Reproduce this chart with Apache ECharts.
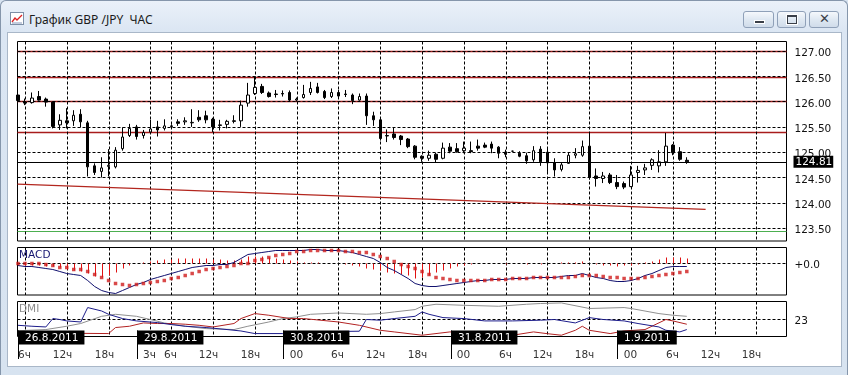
<!DOCTYPE html>
<html><head><meta charset="utf-8">
<script src="https://cdn.jsdelivr.net/npm/echarts@6/dist/echarts.min.js"></script>
<style>
html,body{margin:0;padding:0;}
body{width:848px;height:375px;overflow:hidden;position:relative;background:#d8e4f1;}
#win{position:absolute;left:0;top:0;width:846px;height:374px;border:1px solid #8596ab;border-bottom:none;border-radius:6px 6px 0 0;background:linear-gradient(to bottom,#eaf1f9 0px,#dbe6f3 30px,#d7e3f0 100%);}
#title{position:absolute;left:29px;top:11px;font:12px "Noto Sans",sans-serif;color:#1b1b1b;white-space:nowrap;}
#icon{position:absolute;left:10px;top:12px;}
.btn{position:absolute;top:11px;height:17px;border:1px solid #8fa0b8;border-radius:3px;background:linear-gradient(#f5f8fc,#dfe8f2 50%,#d0dcea);box-sizing:border-box;}
#client{position:absolute;left:7px;top:32px;width:835px;height:335px;background:#fff;border:1px solid #a9b7c8;box-sizing:border-box;}
#chart{position:absolute;left:0;top:0;width:848px;height:375px;}
</style></head>
<body>
<div id="win"></div>
<svg id="icon" width="14" height="13"><rect x="0.5" y="0.5" width="13" height="12" fill="#fff" stroke="#7d8fa6"/><polyline points="2,10 5,6 7,8 12,3" fill="none" stroke="#d22" stroke-width="1.3"/><line x1="2" y1="11" x2="12" y2="11" stroke="#8899bb"/></svg>
<div id="title">График GBP /JPY&nbsp; ЧАС</div>
<div class="btn" style="left:743px;width:31px"><div style="position:absolute;left:10px;top:8px;width:9px;height:2px;background:#3a3f48;border:1px solid #fff;"></div></div>
<div class="btn" style="left:777px;width:29px"><div style="position:absolute;left:9px;top:3px;width:8px;height:6px;border:1px solid #3a3f48;border-top-width:2px;box-shadow:0 0 0 1px #fff;"></div></div>
<div class="btn" style="left:809px;width:30px"><span style="position:absolute;left:9px;top:-1px;font:bold 13px 'DejaVu Sans';color:#3a3f48;">✕</span></div>
<div id="client"></div>
<div id="chart"></div>
<script>
// ---------- data ----------
// hourly candles [open, close, low, high], bar index = position
const ohlc = [
[126.13,126.02,126.00,126.16],[125.99,125.97,125.93,126.06],[125.98,126.07,125.96,126.18],[126.10,126.03,126.02,126.21],
[126.05,125.99,125.90,126.08],[125.99,125.51,125.47,126.00],[125.54,125.63,125.44,125.75],[125.62,125.58,125.47,125.87],
[125.62,125.73,125.52,125.83],[125.75,125.60,125.49,125.85],[125.58,124.71,124.52,125.62],[124.73,124.60,124.55,124.78],
[124.62,124.69,124.50,124.90],[124.72,124.74,124.52,125.06],[124.71,125.04,124.68,125.10],[125.07,125.30,125.03,125.49],
[125.33,125.47,125.30,125.56],[125.50,125.31,125.25,125.54],[125.33,125.39,125.27,125.44],[125.40,125.46,125.37,125.64],
[125.50,125.44,125.31,125.62],[125.47,125.52,125.43,125.65],[125.52,125.51,125.48,125.55],[125.60,125.57,125.52,125.65],
[125.60,125.62,125.54,125.69],[125.58,125.59,125.50,125.85],[125.69,125.64,125.60,125.83],[125.72,125.64,125.57,125.82],
[125.65,125.50,125.40,125.68],[125.54,125.53,125.43,125.64],[125.55,125.61,125.47,125.64],[125.62,125.61,125.57,125.73],
[125.62,125.93,125.50,126.02],[125.97,126.13,125.90,126.37],[126.16,126.28,126.13,126.50],[126.30,126.18,126.15,126.35],
[126.17,126.10,126.08,126.20],[126.15,126.14,126.08,126.23],[126.16,126.15,126.10,126.22],[126.18,126.03,126.00,126.22],
[126.03,126.05,126.00,126.08],[126.08,126.14,126.06,126.33],[126.18,126.26,126.13,126.39],[126.29,126.18,126.16,126.37],
[126.20,126.08,126.05,126.23],[126.10,126.18,126.07,126.26],[126.18,126.11,126.09,126.23],[126.15,126.14,126.09,126.23],
[126.13,126.02,125.95,126.16],[126.03,126.10,126.02,126.16],[126.11,125.72,125.54,126.16],[125.72,125.64,125.52,125.80],
[125.64,125.27,125.23,125.66],[125.32,125.33,125.20,125.45],[125.36,125.29,125.25,125.49],[125.32,125.25,125.14,125.34],
[125.26,125.11,125.08,125.28],[125.12,124.90,124.86,125.14],[124.92,124.88,124.81,124.94],[124.88,124.94,124.83,125.03],
[124.96,124.86,124.79,124.99],[124.88,125.08,124.86,125.19],[125.10,125.02,124.98,125.18],[125.07,125.01,124.99,125.18],
[125.03,125.08,124.98,125.21],[125.03,125.01,124.98,125.21],[125.12,125.08,125.03,125.25],[125.14,125.10,125.08,125.19],
[125.16,125.08,124.98,125.21],[125.10,124.98,124.88,125.12],[125.00,124.96,124.90,125.05],[125.02,125.02,125.00,125.03],
[124.98,124.92,124.90,125.02],[124.93,124.83,124.77,124.99],[124.85,125.03,124.81,125.12],[125.06,124.81,124.73,125.12],
[125.00,124.79,124.61,125.10],[124.79,124.65,124.52,124.88],[124.66,124.75,124.62,124.79],[124.78,124.94,124.77,124.99],
[124.94,124.97,124.88,125.08],[124.94,125.11,124.91,125.23],[125.12,124.50,124.46,125.37],[124.53,124.48,124.32,124.68],
[124.48,124.53,124.39,124.61],[124.55,124.40,124.37,124.59],[124.40,124.32,124.27,124.55],[124.38,124.31,124.27,124.42],
[124.32,124.55,124.31,124.73],[124.60,124.64,124.40,124.73],[124.65,124.69,124.55,124.77],[124.74,124.85,124.65,124.88],
[124.73,124.81,124.60,125.04],[124.81,125.12,124.73,125.38],[125.14,124.99,124.94,125.16],[125.01,124.86,124.83,125.10],
[124.84,124.81,124.77,124.90]
];
const levels = [127.00, 126.49, 126.01, 125.385];   // red horizontal levels
const supportLevel = 123.44;                        // green line
const lastPrice = 124.81;
const trendLine = [[-0.07, 124.37], [98.7, 123.87]];

const macdMain = [-0.02,-0.03,-0.03,-0.04,-0.05,-0.06,-0.08,-0.10,-0.11,-0.12,
-0.17,-0.23,-0.27,-0.29,-0.30,-0.27,-0.24,-0.21,-0.19,-0.16,
-0.14,-0.12,-0.10,-0.08,-0.06,-0.04,-0.03,-0.02,-0.02,-0.01,
-0.01,0.01,0.05,0.09,0.10,0.11,0.12,0.13,0.13,0.13,
0.13,0.13,0.14,0.14,0.13,0.13,0.13,0.12,0.11,0.09,
0.07,0.05,0.01,-0.04,-0.07,-0.11,-0.15,-0.20,-0.22,-0.23,
-0.23,-0.22,-0.21,-0.20,-0.19,-0.18,-0.17,-0.17,-0.16,-0.16,
-0.16,-0.15,-0.15,-0.15,-0.14,-0.14,-0.14,-0.14,-0.13,-0.12,
-0.12,-0.10,-0.12,-0.14,-0.15,-0.17,-0.18,-0.18,-0.17,-0.15,
-0.12,-0.10,-0.07,-0.04,-0.03,-0.03,-0.03];
const macdSignal = [0.00,0.00,0.00,0.00,-0.01,-0.02,-0.04,-0.04,-0.06,-0.06,
-0.08,-0.11,-0.14,-0.17,-0.20,-0.21,-0.22,-0.21,-0.20,-0.19,
-0.18,-0.17,-0.15,-0.14,-0.12,-0.10,-0.08,-0.06,-0.05,-0.04,
-0.03,-0.02,0.00,0.00,0.03,0.04,0.06,0.08,0.09,0.10,
0.12,0.12,0.13,0.13,0.13,0.13,0.13,0.12,0.12,0.11,
0.11,0.09,0.07,0.05,0.02,-0.01,-0.03,-0.05,-0.08,-0.11,
-0.14,-0.15,-0.16,-0.17,-0.17,-0.17,-0.17,-0.17,-0.16,-0.16,
-0.16,-0.15,-0.15,-0.15,-0.14,-0.14,-0.14,-0.14,-0.14,-0.14,
-0.13,-0.12,-0.12,-0.12,-0.13,-0.14,-0.14,-0.15,-0.15,-0.15,
-0.14,-0.13,-0.12,-0.11,-0.10,-0.09,-0.08];
const macdHist = [-0.01,-0.02,-0.02,-0.02,-0.03,-0.03,-0.04,-0.06,-0.07,-0.08,
-0.10,-0.13,-0.14,-0.12,-0.09,-0.05,-0.02,0.00,0.01,0.02,
0.03,0.04,0.04,0.05,0.05,0.05,0.05,0.05,0.04,0.04,
0.03,0.03,0.04,0.07,0.07,0.07,0.06,0.05,0.04,0.03,
0.02,0.01,0.01,0.01,0.00,0.00,0.00,-0.01,-0.02,-0.03,
-0.05,-0.06,-0.07,-0.09,-0.10,-0.11,-0.12,-0.15,-0.14,-0.12,
-0.09,-0.07,-0.05,-0.03,-0.02,-0.01,0.00,0.00,0.00,0.00,
-0.01,0.00,0.00,-0.01,0.00,-0.01,0.00,0.00,0.01,0.01,
0.01,0.02,0.00,-0.01,-0.02,-0.02,-0.03,-0.02,-0.02,-0.01,
0.01,0.02,0.04,0.06,0.06,0.06,0.05];

// DMI lines as [bar, value]
const adx = [[0,13.5],[4,14.5],[7,17.3],[9,19.6],[12,25.7],[14,27.4],[17,25.7],[19,23.0],[21,20.1],[24,17.3],[27,15.3],[31,14.5],[33,17.3],[36,20.9],[38,23.8],[40,25.2],[42,27.4],[46,28.5],[50,27.4],[52,28.0],[54,29.4],[57,31.4],[58,34.2],[60,35.9],[64,35.0],[69,34.2],[73,35.9],[75,36.5],[78,37.0],[82,32.3],[87,33.1],[88,32.3],[92,28.0],[94,26.6],[96,25.7]];
const diPlus = [[0,18.1],[2,17.3],[4,16.7],[5,23.8],[6,23.0],[7,21.8],[9,20.9],[10,33.1],[12,30.2],[13,27.4],[15,23.8],[17,21.8],[20,20.4],[22,18.7],[24,17.3],[27,16.2],[30,14.5],[32,13.3],[34,11.1],[38,11.1],[41,12.5],[49,13.1],[50,23.0],[52,22.4],[54,23.8],[57,25.7],[58,29.4],[59,27.4],[61,24.6],[64,23.8],[67,21.8],[71,21.8],[75,22.4],[77,23.0],[80,20.1],[82,24.6],[84,23.0],[87,21.8],[89,19.6],[92,16.7],[93,13.9],[95,12.5],[96,14.5]];
const diMinus = [[0,12.0],[9,11.3],[13,11.1],[14,16.2],[16,17.3],[18,20.1],[20,19.6],[22,19.6],[24,19.0],[26,18.1],[28,16.7],[31,19.6],[32,23.8],[34,28.0],[36,26.6],[39,23.8],[41,23.8],[46,20.9],[49,18.1],[52,13.9],[54,12.5],[58,9.7],[60,11.1],[62,12.5],[66,11.1],[71,9.7],[74,12.5],[76,11.0],[78,9.7],[80,13.9],[81,17.3],[82,13.9],[85,11.1],[87,13.3],[90,14.5],[93,23.0],[94,21.8],[96,19.0]];
const dmiLevel = 23;

// time axis
const gridBars = [1,7,13,19,22,28,34,40,46,52,58,64,70,76,82,88,94,100,106];
const timeLabels = ['6ч','12ч','18ч','3ч','6ч','12ч','18ч','00','6ч','12ч','18ч','00','6ч','12ч','18ч','00','6ч','12ч','18ч'];
const flagBars = [-0.07, 17.1, 38.1, 62.1, 86.0];
const dayLabels = ['26.8.2011','29.8.2011','30.8.2011','31.8.2011','1.9.2011'];

// ---------- layout ----------
const FONT = 'DejaVu Sans';
const XMIN = -0.0718, XMAX = 110.31;
const PX_MAIN = 50.6, SCALE_TOP = 51, SCALE_MIN = 123.5, SCALE_MAX = 127;
const MAIN_TOP = 41.5, MAIN_BOTTOM = 241;
const mainMax = SCALE_MAX + (SCALE_TOP - MAIN_TOP) / PX_MAIN;
const mainMin = SCALE_MAX - (MAIN_BOTTOM - SCALE_TOP) / PX_MAIN;
const MACD_MIN = -0.315, MACD_MAX = 0.16;
const DMI_MAX = 38.216, DMI_MIN = 8.63;
const DASH = [3,2];
const dash = {color:'#000', width:1, type:DASH};
const sideLabel = {show:true, position:'end', distance:8, formatter:'{b}', color:'#111', fontFamily:FONT, fontSize:10.5, verticalAlign:'top', lineHeight:4};

const chart = echarts.init(document.getElementById('chart'));
const xa = (g) => ({gridIndex:g, type:'value', min:XMIN, max:XMAX, show:false});

// vertical dashed time grid drawn through the axis scales (snapped to whole pixels)
function vGrid(gi, ymin, ymax, withLabels) {
  return {type:'custom', xAxisIndex:gi, yAxisIndex:gi, z:1.6, silent:true, clip:false,
    data: gridBars.map((b,i)=>[b, ymin]),
    renderItem: function(params, api){
      const p0 = api.coord([api.value(0), ymin]), p1 = api.coord([api.value(0), ymax]);
      const x = Math.round(p0[0]) + 0.5;
      const ch = [{type:'line', shape:{x1:x, y1:p1[1], x2:x, y2:p0[1]}, style:{stroke:'#000', lineWidth:1, lineDash:DASH}}];
      if (withLabels) {
        const t = timeLabels[params.dataIndex];
        ch.push({type:'text', x: x - (t.length > 2 ? 5 : 1), y: p0[1] + 18.5,
          style:{text:t, fill:'#333', font:'10.5px "DejaVu Sans"', align:'center', verticalAlign:'middle'}});
      }
      return {type:'group', children:ch};
    }};
}

chart.setOption({
  animation:false,
  grid:[
    {left:17.5, top:MAIN_TOP, width:769, height:MAIN_BOTTOM-MAIN_TOP, show:true, borderColor:'#000', borderWidth:1},
    {left:17.5, top:SCALE_TOP, width:769, height:(SCALE_MAX-SCALE_MIN)*PX_MAIN},
    {left:17.5, top:247.5, width:769, height:47.5, show:true, borderColor:'#000', borderWidth:1},
    {left:17.5, top:301.5, width:769, height:35, show:true, borderColor:'#000', borderWidth:1}
  ],
  xAxis:[xa(0), xa(1), xa(2), xa(3)],
  yAxis:[
    {gridIndex:0, type:'value', min:mainMin, max:mainMax, show:false},
    {gridIndex:1, type:'value', min:SCALE_MIN, max:SCALE_MAX, interval:0.5, position:'right', z:1.5,
      axisLine:{show:false}, axisTick:{show:false},
      axisLabel:{margin:8, color:'#111', fontFamily:FONT, fontSize:10.5, verticalAlign:'top', lineHeight:5, formatter:v=>v.toFixed(2)},
      splitLine:{show:true, lineStyle:dash}},
    {gridIndex:2, type:'value', min:MACD_MIN, max:MACD_MAX, show:false},
    {gridIndex:3, type:'value', min:DMI_MIN, max:DMI_MAX, show:false}
  ],
  graphic:[
    {type:'text', left:19, top:250, z:20, style:{text:'MACD', fill:'#141470', font:'10.5px "DejaVu Sans"'}},
    {type:'text', left:19, top:304, z:20, style:{text:'DMI', fill:'#8c8c8c', font:'10.5px "DejaVu Sans"'}}
  ],
  series:[
    // main panel
    {type:'line', xAxisIndex:0, yAxisIndex:0, data:[], markLine:{symbol:['none','none'], silent:true, z:1,
      label:{show:false}, lineStyle:{color:'#a81c1c', width:1.3, type:'solid'},
      data: levels.map(v=>({yAxis:v})).concat([{yAxis:supportLevel, lineStyle:{color:'#4caf50', width:1, type:'solid'}}])}},
    vGrid(0, mainMin, mainMax, false),
    {type:'line', xAxisIndex:0, yAxisIndex:0, z:1.8, data:trendLine, symbol:'none', lineStyle:{color:'#b3261e', width:1.2}},
    {type:'candlestick', xAxisIndex:0, yAxisIndex:0, barWidth:3, z:2,
      data: ohlc.map((d,i)=>[i, d[0], d[1], d[2], d[3]]),
      itemStyle:{color:'#fff', color0:'#000', borderColor:'#000', borderColor0:'#000', borderWidth:1},
      markLine:{symbol:['none','none'], silent:true, z:5,
        data:[{yAxis:lastPrice, lineStyle:{color:'#000', width:1, type:'solid'},
          label:{show:true, position:'end', distance:7, formatter:lastPrice.toFixed(2), color:'#fff', backgroundColor:'#000', padding:[1,1,0,2], fontFamily:FONT, fontSize:10.5}}]}},
    // MACD panel
    vGrid(2, MACD_MIN, MACD_MAX, false),
    {type:'line', xAxisIndex:2, yAxisIndex:2, data:[], markLine:{symbol:['none','none'], silent:true, z:1.6, lineStyle:dash,
      data:[{yAxis:0, name:'+0.0'}], label:sideLabel}},
    {type:'custom', xAxisIndex:2, yAxisIndex:2, z:2, silent:true,
      data: macdHist.map((v,i)=>[i,v]),
      renderItem: function(params, api){
        const p0 = api.coord([api.value(0), 0]), p1 = api.coord([api.value(0), api.value(1)]);
        const x = Math.round(p0[0]) + 0.5;
        return {type:'line', shape:{x1:x, y1:p0[1], x2:x, y2:p1[1]}, style:{stroke:'#e01010', lineWidth:1}};
      }},
    {type:'line', xAxisIndex:2, yAxisIndex:2, data: macdMain.map((v,i)=>[i,v]), symbol:'none', lineStyle:{color:'#10106e', width:1}, z:3},
    {type:'scatter', xAxisIndex:2, yAxisIndex:2, data: macdSignal.map((v,i)=>[i,v]), symbol:'rect', symbolSize:3.5, itemStyle:{color:'#d01c1c'}, z:4},
    // DMI panel
    vGrid(3, DMI_MIN, DMI_MAX, true),
    {type:'line', xAxisIndex:3, yAxisIndex:3, data:[], markLine:{symbol:['none','none'], silent:true, z:1.6, lineStyle:dash,
      data:[{yAxis:dmiLevel, name:String(dmiLevel)}], label:sideLabel}},
    {type:'line', xAxisIndex:3, yAxisIndex:3, data: adx, symbol:'none', lineStyle:{color:'#8f8f8f', width:1}},
    {type:'line', xAxisIndex:3, yAxisIndex:3, data: diMinus, symbol:'none', lineStyle:{color:'#b22222', width:1}},
    {type:'line', xAxisIndex:3, yAxisIndex:3, data: diPlus, symbol:'none', lineStyle:{color:'#1c1c8a', width:1}},
    {type:'custom', xAxisIndex:3, yAxisIndex:3, z:10, clip:false, silent:true,
      data: flagBars.map((b,i)=>[b, DMI_MIN]),
      renderItem: function(params, api){
        const p = api.coord([api.value(0), DMI_MIN]);
        const x = Math.round(p[0]) + 0.5, yb = p[1];
        return {type:'group', children:[
          {type:'line', shape:{x1:x, y1:yb-6, x2:x, y2:yb+22.5}, style:{stroke:'#000', lineWidth:1}},
          {type:'text', x:x-0.5, y:yb-6, style:{text:dayLabels[params.dataIndex], fill:'#fff', backgroundColor:'#000',
            padding:[2,6,1,7], font:'10.5px "DejaVu Sans"', verticalAlign:'top', align:'left', lineHeight:11}}
        ]};
      }}
  ]
});
</script>
</body></html>
